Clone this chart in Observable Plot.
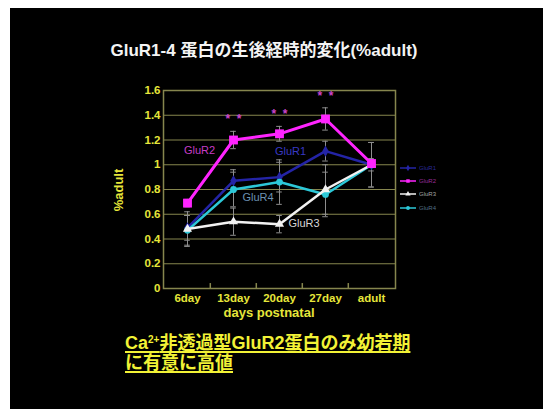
<!DOCTYPE html>
<html>
<head>
<meta charset="utf-8">
<script src="https://cdn.jsdelivr.net/npm/d3@7"></script>
<script src="https://cdn.jsdelivr.net/npm/@observablehq/plot@0.6"></script>
<style>
  html, body { margin: 0; padding: 0; background: #fff; }
  #slide {
    position: absolute; left: 10px; top: 8px; width: 533px; height: 401px;
    background: #000; overflow: hidden;
    font-family: "Liberation Sans", "Noto Sans CJK JP", sans-serif;
  }
  #title {
    position: absolute; left: 0; width: 508px; top: 32px;
    text-align: center; color: #f4f4f4; font-weight: bold;
    font-size: 17px; line-height: 22px; white-space: nowrap;
  }
  #chart { position: absolute; left: 0; top: 0; }
  #ylabel {
    position: absolute; left: 108px; top: 182px;
    transform: translate(-50%, -50%) rotate(-90deg);
    color: #e6e63a; font-weight: bold; font-size: 13px; white-space: nowrap;
  }
  #xlabel {
    position: absolute; left: 259px; top: 303.5px;
    transform: translate(-50%, -50%);
    color: #e6e63a; font-weight: bold; font-size: 13px; line-height: 13px; white-space: nowrap;
  }
  #legend { position: absolute; left: 390px; top: 153px; }
  #legend .row { display: flex; align-items: center; height: 13.3px; }
  #legend .row span { font-size: 6px; margin-left: 3px; opacity: 0.75; }
  #caption {
    position: absolute; left: 115px; top: 325px;
    color: #f2f236; font-weight: bold; font-size: 18px; line-height: 20px;
    text-decoration: underline; text-decoration-thickness: 1.5px; text-underline-offset: 2px;
    white-space: nowrap;
  }
  #caption sup { font-size: 10px; vertical-align: 6px; line-height: 0; }
</style>
</head>
<body>
<div id="slide">
  <div id="title">GluR1-4 蛋白の生後経時的変化(%adult)</div>
  <div id="chart"></div>
  <div id="ylabel">%adult</div>
  <div id="xlabel">days postnatal</div>
  <div id="legend"></div>
  <div id="caption">Ca<sup>2+</sup>非透過型GluR2蛋白のみ幼若期<br>に有意に高値</div>
</div>
<script>
// Postnatal ages and protein level (relative to adult) for each AMPA receptor subunit
const categories = ["6day", "13day", "20day", "27day", "adult"];
const seriesNames = ["GluR1", "GluR2", "GluR3", "GluR4"];

const glur1 = [0.49, 0.87, 0.90, 1.11, 1.00];
const glur2 = [0.69, 1.20, 1.25, 1.37, 1.01];
const glur3 = [0.48, 0.54, 0.52, 0.80, 1.00];
const glur4 = [0.47, 0.80, 0.86, 0.76, 1.00];

const glur1Err = [0.10, 0.09, 0.12, 0.08, 0.18];
const glur2Err = [0.03, 0.07, 0.06, 0.09, 0.03];
const glur3Err = [0.14, 0.11, 0.07, 0.20, 0.05];
const glur4Err = [0.12, 0.14, 0.18, 0.18, 0.18];

// Ages where GluR2 differs significantly from adult
const sigDays = ["13day", "20day", "27day"];

const yTicks = [0, 0.2, 0.4, 0.6, 0.8, 1, 1.2, 1.4, 1.6];

const colors  = ["#2424a6", "#ff24ff", "#f2f2f2", "#2cc8d8"];
const symbols = ["diamond", "square", "triangle", "circle"];
const labelColors = ["#3838c4", "#c63cc6", "#d6d6d6", "#6c92b2"];

const values = {GluR1: glur1, GluR2: glur2, GluR3: glur3, GluR4: glur4};
const errors = {GluR1: glur1Err, GluR2: glur2Err, GluR3: glur3Err, GluR4: glur4Err};

const rows = seriesNames.flatMap(s => categories.map((day, i) => ({
  series: s, day, value: values[s][i], err: errors[s][i]
})));

const W = 533, H = 320, ml = 153, mr = 148, mt = 82, mb = 40;
const bw = (W - ml - mr) / categories.length;
const grid = "#86864e";
const errColor = "#8e8e8e";

const drawOrder = ["GluR1", "GluR4", "GluR3", "GluR2"];
const seriesMarks = drawOrder.flatMap(s => {
  const k = seriesNames.indexOf(s);
  const data = rows.filter(d => d.series === s);
  return [
    Plot.line(data, {x: "day", y: "value", stroke: "series", strokeWidth: s === "GluR2" ? 3 : 2.5}),
    Plot.dot(data, {x: "day", y: "value", fill: "series", symbol: symbols[k],
      r: s === "GluR2" ? 5 : 3.4, stroke: "none"})
  ];
});

// Series names written beside their lines
const at = (s, day) => rows.filter(d => d.series === s && d.day === day);
const lineLabel = (s, day, opts) => Plot.text(at(s, day), {
  x: "day", y: "value", text: "series", fill: labelColors[seriesNames.indexOf(s)],
  fontSize: 11, fontWeight: "normal", ...opts
});

const chart = Plot.plot({
  width: W, height: H,
  marginLeft: ml, marginRight: mr, marginTop: mt, marginBottom: mb,
  style: {background: "transparent", color: "#e6e63a",
    fontFamily: "'Liberation Sans', Arial, sans-serif", fontSize: "11.5px", fontWeight: "bold"},
  x: {type: "band", domain: categories, padding: 0, tickSize: 0, tickPadding: 5, label: null},
  y: {domain: [0, 1.6], ticks: yTicks, tickFormat: d => String(d), tickSize: 0, tickPadding: 3, label: null},
  color: {domain: seriesNames, range: colors},
  marks: [
    Plot.ruleY(yTicks.slice(1, -1), {stroke: grid, strokeWidth: 1.2}),
    Plot.frame({stroke: grid, strokeWidth: 1.5}),
    Plot.ruleX(categories.slice(1), {y1: 0, y2: 0.04, dx: -bw / 2, stroke: grid, strokeWidth: 1.5}),
    Plot.ruleX(rows, {x: "day", y1: d => d.value - d.err, y2: d => d.value + d.err, stroke: errColor}),
    Plot.tickY(rows, {x: "day", y: d => d.value - d.err, insetLeft: bw / 2 - 3, insetRight: bw / 2 - 3, stroke: errColor}),
    Plot.tickY(rows, {x: "day", y: d => d.value + d.err, insetLeft: bw / 2 - 3, insetRight: bw / 2 - 3, stroke: errColor}),
    ...seriesMarks,
    Plot.text(rows.filter(d => d.series === "GluR2" && sigDays.includes(d.day)), {
      x: "day", y: d => d.value + d.err, text: () => "*  *", dy: -12,
      fill: "#cc44cc", fontSize: 12, fontWeight: "bold"
    }),
    lineLabel("GluR1", "20day", {textAnchor: "middle", dx: 11, dy: -26}),
    lineLabel("GluR2", "13day", {textAnchor: "middle", dx: -34, dy: 10}),
    lineLabel("GluR3", "20day", {textAnchor: "start", dx: 9, dy: -1}),
    lineLabel("GluR4", "13day", {textAnchor: "start", dx: 9, dy: 8})
  ]
});
document.getElementById("chart").appendChild(chart);

// Small legend: line sample with marker, then the series name
const legend = d3.select("#legend");
seriesNames.forEach((s, k) => {
  const row = legend.append("div").attr("class", "row");
  const svg = row.append("svg").attr("width", 16).attr("height", 8);
  svg.append("line").attr("x1", 0).attr("x2", 16).attr("y1", 4).attr("y2", 4)
    .attr("stroke", colors[k]).attr("stroke-width", 1.5);
  svg.append("path").attr("transform", "translate(8,4)")
    .attr("d", d3.symbol(d3["symbol" + symbols[k][0].toUpperCase() + symbols[k].slice(1)], 12)())
    .attr("fill", colors[k]);
  row.append("span").style("color", labelColors[k]).text(s);
});
</script>
</body>
</html>
